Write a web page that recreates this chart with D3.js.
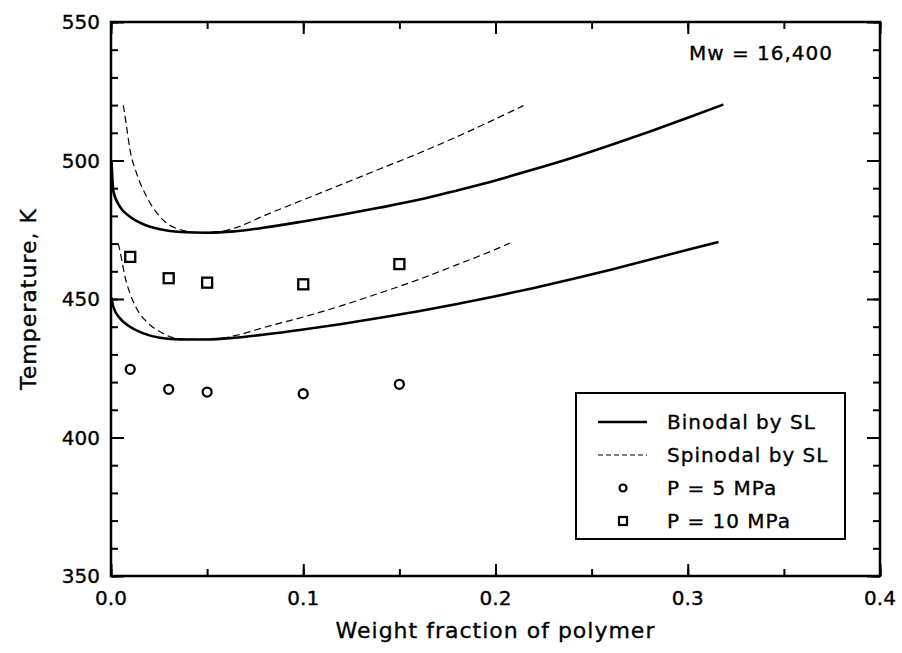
<!DOCTYPE html>
<html>
<head>
<meta charset="utf-8">
<script src="https://cdn.jsdelivr.net/npm/d3@7"></script>
<style>
  html, body { margin: 0; padding: 0; background: #fff; }
  svg { display: block; }
  text { font-family: "DejaVu Sans", sans-serif; fill: #000; stroke: #000; stroke-width: 0.35px; }
</style>
</head>
<body>
<svg id="chart" width="902" height="653"></svg>
<script>
// ---- data ----
const xTicks = [0.0, 0.1, 0.2, 0.3, 0.4];
const xTickLabels = ["0.0", "0.1", "0.2", "0.3", "0.4"];
const yTicks = [350, 400, 450, 500, 550];
const yTickLabels = ["350", "400", "450", "500", "550"];

const expW = [0.01, 0.03, 0.05, 0.10, 0.15];
const exp5MPa = [424.6, 417.4, 416.4, 415.8, 419.2];
const exp10MPa = [465.2, 457.5, 455.9, 455.3, 462.6];

const binodalUpperW = [0.0003, 0.0012, 0.0047, 0.0099, 0.0168, 0.0255, 0.036, 0.05, 0.064, 0.08, 0.10, 0.12, 0.14, 0.16, 0.18, 0.20, 0.22, 0.24, 0.26, 0.28, 0.30, 0.3185];
const binodalUpperT = [499.5, 489.0, 483.3, 479.7, 477.0, 475.2, 474.2, 473.9, 474.4, 475.8, 478.0, 480.4, 483.0, 485.8, 489.2, 492.8, 496.8, 501.0, 505.6, 510.4, 515.4, 520.2];

const spinodalUpperW = [0.0064, 0.0081, 0.0099, 0.0133, 0.0185, 0.0255, 0.034, 0.046, 0.056, 0.066, 0.08, 0.10, 0.12, 0.14, 0.16, 0.18, 0.20, 0.2145];
const spinodalUpperT = [520.0, 512.2, 503.8, 495.4, 487.0, 479.7, 475.5, 474.0, 474.3, 476.0, 480.2, 485.8, 491.4, 497.0, 502.6, 508.6, 515.0, 519.8];

const binodalLowerW = [0.0003, 0.0012, 0.0047, 0.0099, 0.0168, 0.0255, 0.036, 0.05, 0.064, 0.08, 0.10, 0.12, 0.14, 0.16, 0.18, 0.20, 0.22, 0.24, 0.26, 0.28, 0.30, 0.316];
const binodalLowerT = [450.5, 447.2, 443.0, 440.0, 437.6, 436.0, 435.4, 435.4, 436.0, 437.2, 439.0, 441.0, 443.2, 445.6, 448.2, 451.0, 454.0, 457.2, 460.6, 464.2, 467.8, 470.6];

const spinodalLowerW = [0.0038, 0.0056, 0.0073, 0.0099, 0.0133, 0.0185, 0.0255, 0.034, 0.046, 0.056, 0.066, 0.08, 0.10, 0.12, 0.14, 0.16, 0.18, 0.20, 0.2075];
const spinodalLowerT = [470.1, 464.1, 458.0, 452.0, 446.6, 441.8, 438.2, 435.8, 435.4, 435.7, 437.0, 439.8, 443.5, 447.6, 452.2, 457.0, 462.4, 467.9, 470.2];

const legendLabels = ["Binodal by SL", "Spinodal by SL", "P = 5 MPa", "P = 10 MPa"];
const annotation = "Mw = 16,400";
const xTitle = "Weight fraction of polymer";
const yTitle = "Temperature, K";

// ---- layout ----
const W = 902, H = 653;
const margin = { left: 111, right: 22, top: 22, bottom: 77 };
const x0 = margin.left, x1 = W - margin.right;
const y0 = margin.top, y1 = H - margin.bottom;

const svg = d3.select("#chart");
const x = d3.scaleLinear().domain([0, 0.4]).range([x0, x1]);
const y = d3.scaleLinear().domain([350, 550]).range([y1, y0]);

const majorX = 12, minorX = 7, majorY = 13, minorY = 7;
const xMinor = d3.range(0, 0.4001, 0.05);
const yMinor = d3.range(350, 550.01, 10);

function addAxis(axisFn, scale, vals, size, transform) {
  const a = axisFn(scale).tickValues(vals).tickSize(size).tickFormat("");
  const g = svg.append("g").attr("transform", transform).call(a);
  g.select(".domain").remove();
  g.selectAll(".tick line").attr("stroke", "#000").attr("stroke-width", 2);
  return g;
}
// bottom (ticks inward = up)
addAxis(d3.axisTop, x, xMinor, minorX, `translate(0,${y1})`);
addAxis(d3.axisTop, x, xTicks, majorX, `translate(0,${y1})`);
// top (inward = down)
addAxis(d3.axisBottom, x, xMinor, minorX, `translate(0,${y0})`);
addAxis(d3.axisBottom, x, xTicks, majorX, `translate(0,${y0})`);
// left (inward = right)
addAxis(d3.axisRight, y, yMinor, minorY, `translate(${x0},0)`);
addAxis(d3.axisRight, y, yTicks, majorY, `translate(${x0},0)`);
// right (inward = left)
addAxis(d3.axisLeft, y, yMinor, minorY, `translate(${x1},0)`);
addAxis(d3.axisLeft, y, yTicks, majorY, `translate(${x1},0)`);

// tick labels
svg.append("g").selectAll("text").data(xTicks).join("text")
  .attr("x", d => x(d)).attr("y", y1 + 29)
  .attr("text-anchor", "middle").attr("font-size", 20)
  .text((d, i) => xTickLabels[i]);
svg.append("g").selectAll("text").data(yTicks).join("text")
  .attr("x", x0 - 11).attr("y", d => y(d) + 7)
  .attr("text-anchor", "end").attr("font-size", 20)
  .text((d, i) => yTickLabels[i]);

// frame
svg.append("rect").attr("x", x0).attr("y", y0).attr("width", x1 - x0).attr("height", y1 - y0)
  .attr("fill", "none").attr("stroke", "#000").attr("stroke-width", 2.5);

// curves
const line = d3.line().x(d => x(d[0])).y(d => y(d[1])).curve(d3.curveMonotoneX);
const zip = (a, b) => a.map((v, i) => [v, b[i]]);
svg.append("clipPath").attr("id", "clip").append("rect")
  .attr("x", x0).attr("y", y0).attr("width", x1 - x0).attr("height", y1 - y0);
const plot = svg.append("g").attr("clip-path", "url(#clip)");

plot.append("path").datum(zip(binodalUpperW, binodalUpperT)).attr("d", line)
  .attr("fill", "none").attr("stroke", "#000").attr("stroke-width", 2.6);
plot.append("path").datum(zip(binodalLowerW, binodalLowerT)).attr("d", line)
  .attr("fill", "none").attr("stroke", "#000").attr("stroke-width", 2.6);
plot.append("path").datum(zip(spinodalUpperW, spinodalUpperT)).attr("d", line)
  .attr("fill", "none").attr("stroke", "#000").attr("stroke-width", 1.2).attr("stroke-dasharray", "7,4");
plot.append("path").datum(zip(spinodalLowerW, spinodalLowerT)).attr("d", line)
  .attr("fill", "none").attr("stroke", "#000").attr("stroke-width", 1.2).attr("stroke-dasharray", "7,4");

// markers
const ms = 10;
svg.append("g").selectAll("circle").data(zip(expW, exp5MPa)).join("circle")
  .attr("cx", d => x(d[0])).attr("cy", d => y(d[1])).attr("r", ms / 2 - 0.5)
  .attr("fill", "none").attr("stroke", "#000").attr("stroke-width", 2.3);
svg.append("g").selectAll("rect").data(zip(expW, exp10MPa)).join("rect")
  .attr("x", d => x(d[0]) - ms / 2).attr("y", d => y(d[1]) - ms / 2)
  .attr("width", ms).attr("height", ms)
  .attr("fill", "none").attr("stroke", "#000").attr("stroke-width", 2.3);

// annotation
svg.append("text").attr("x", 833).attr("y", 60).attr("text-anchor", "end")
  .attr("font-size", 20).attr("letter-spacing", 1).text(annotation);

// legend
const lg = svg.append("g");
lg.append("rect").attr("x", 576).attr("y", 393).attr("width", 269).attr("height", 146)
  .attr("fill", "#fff").attr("stroke", "#000").attr("stroke-width", 2);
const rowY = [422, 455, 488, 521];
lg.append("line").attr("x1", 598).attr("x2", 647).attr("y1", rowY[0]).attr("y2", rowY[0])
  .attr("stroke", "#000").attr("stroke-width", 2.4);
lg.append("line").attr("x1", 598).attr("x2", 647).attr("y1", rowY[1]).attr("y2", rowY[1])
  .attr("stroke", "#000").attr("stroke-width", 1.2).attr("stroke-dasharray", "5,3");
lg.append("circle").attr("cx", 623).attr("cy", rowY[2]).attr("r", 3.5)
  .attr("fill", "none").attr("stroke", "#000").attr("stroke-width", 2.2);
lg.append("rect").attr("x", 619).attr("y", rowY[3] - 4).attr("width", 8).attr("height", 8)
  .attr("fill", "none").attr("stroke", "#000").attr("stroke-width", 2.2);
lg.selectAll("text.lab").data(legendLabels).join("text").attr("class", "lab")
  .attr("x", 667).attr("y", (d, i) => rowY[i] + 7)
  .attr("font-size", 20).attr("letter-spacing", 1).text(d => d);

// axis titles
svg.append("text").attr("x", (x0 + x1) / 2).attr("y", 638).attr("text-anchor", "middle")
  .attr("font-size", 22).attr("letter-spacing", 1).text(xTitle);
svg.append("text").attr("transform", `translate(36,${(y0 + y1) / 2}) rotate(-90)`)
  .attr("text-anchor", "middle").attr("font-size", 22).attr("letter-spacing", 1).text(yTitle);
</script>
</body>
</html>
